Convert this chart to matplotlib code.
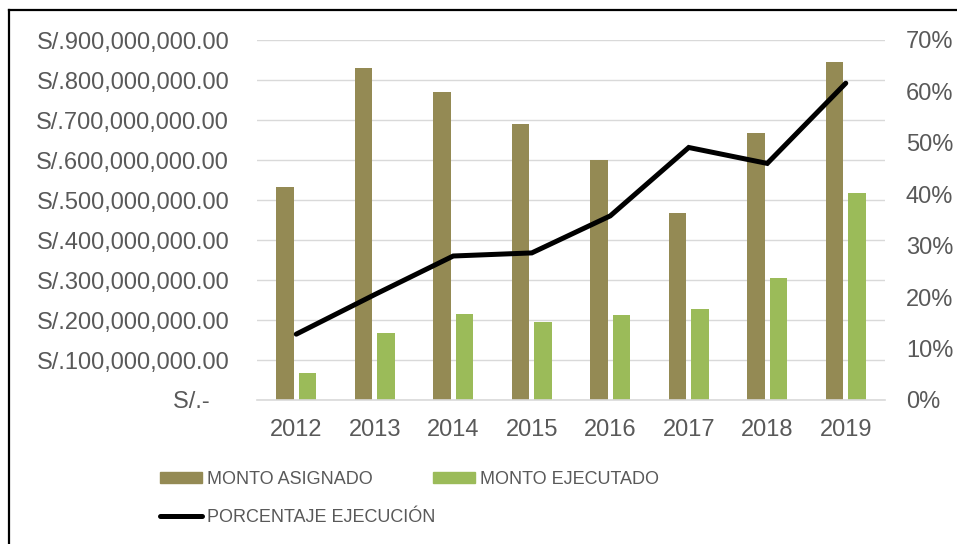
import numpy as np
import matplotlib
matplotlib.use('Agg')
import matplotlib.pyplot as plt
import matplotlib.ticker as ticker
from matplotlib.lines import Line2D
from matplotlib.patches import Patch

years = ['2012', '2013', '2014', '2015', '2016', '2017', '2018', '2019']
monto_asignado = [533e6, 829e6, 771e6, 689e6, 599e6, 468e6, 667e6, 844e6]
monto_ejecutado = [68e6, 168e6, 214e6, 196e6, 213e6, 228e6, 306e6, 517e6]
porcentaje = [0.128, 0.205, 0.280, 0.286, 0.358, 0.491, 0.460, 0.616]

c_asig = '#948A54'
c_ejec = '#9BBB59'
c_text = '#595959'
c_grid = '#D9D9D9'

plt.rcParams['font.family'] = ['Liberation Sans', 'DejaVu Sans']

W, H = 957, 544
fig = plt.figure(figsize=(W / 100, H / 100), dpi=100)
ax = fig.add_axes([257 / W, 1 - 400 / H, 628 / W, 360 / H])
ax2 = ax.twinx()

x = np.arange(len(years))
bw = 0.223
ax.bar(x - 0.142, monto_asignado, bw, color=c_asig, zorder=2)
ax.bar(x + 0.142, monto_ejecutado, bw, color=c_ejec, zorder=2)
ax2.plot(x, porcentaje, color='black', linewidth=3.6, solid_capstyle='round',
         solid_joinstyle='miter', zorder=3)

ax.set_xlim(-0.5, len(years) - 0.5)
ax.set_ylim(0, 900e6)
ax2.set_ylim(0, 0.7)
ax.set_yticks(np.arange(0, 900e6 + 1, 100e6))
ax2.set_yticks(np.arange(0, 0.71, 0.1))


def fmt_soles(v, pos=None):
    if v == 0:
        return 'S/.-   '
    return 'S/.{:,.2f}'.format(v)


ax.yaxis.set_major_formatter(ticker.FuncFormatter(fmt_soles))
ax2.yaxis.set_major_formatter(ticker.FuncFormatter(lambda v, p: '{:.0f}%'.format(v * 100)))
ax.set_xticks(x)
ax.set_xticklabels(years)

ax.grid(axis='y', color=c_grid, linewidth=1.0, zorder=0)
ax.set_axisbelow(True)
for a in (ax, ax2):
    for s in a.spines.values():
        s.set_visible(False)
ax.spines['bottom'].set_visible(True)
ax.spines['bottom'].set_color(c_grid)
ax.spines['bottom'].set_linewidth(1.2)

ax.tick_params(axis='y', length=0, pad=20, labelsize=17, labelcolor=c_text)
ax.tick_params(axis='x', length=0, pad=14, labelsize=17, labelcolor=c_text)
ax2.tick_params(axis='y', length=0, pad=15, labelsize=17, labelcolor=c_text)

handles = [Patch(color=c_asig, label='MONTO ASIGNADO'),
           Line2D([], [], color='black', linewidth=3.6, solid_capstyle='round',
                  label='PORCENTAJE EJECUCIÓN'),
           Patch(color=c_ejec, label='MONTO EJECUTADO')]
fig.legend(handles=handles, loc='upper left', bbox_to_anchor=(160 / W, 1 - 471 / H),
           ncol=2, frameon=False, fontsize=13, labelcolor=c_text, borderpad=0,
           borderaxespad=0, handlelength=2.3, handleheight=0.55, handletextpad=0.28,
           labelspacing=1.15, columnspacing=-0.1)

# black frame (top and left edges visible)
fig.add_artist(Line2D([9 / W, 9 / W], [0, 1 - 10 / H], color='black', linewidth=1.6,
                      transform=fig.transFigure))
fig.add_artist(Line2D([9 / W, 1], [1 - 10 / H, 1 - 10 / H], color='black', linewidth=1.6,
                      transform=fig.transFigure))

plt.savefig('out.png', dpi=100)
